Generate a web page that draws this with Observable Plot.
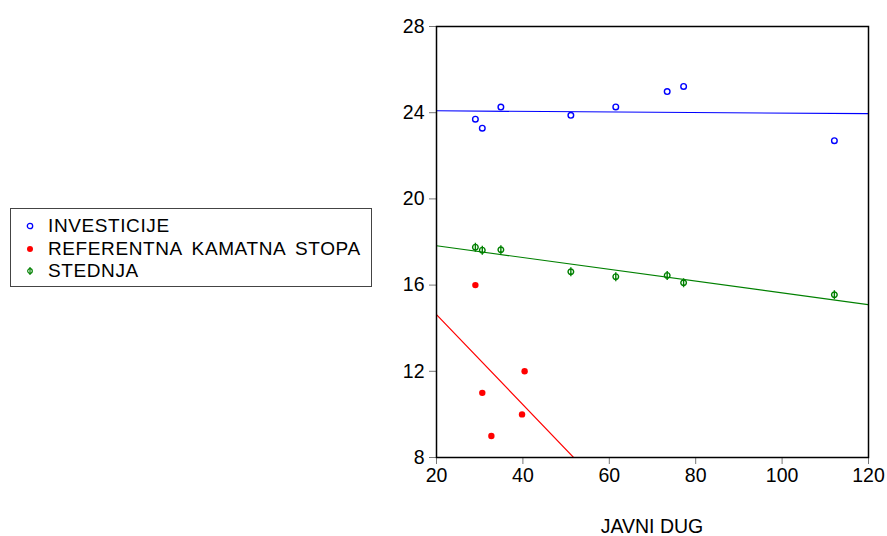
<!DOCTYPE html>
<html><head><meta charset="utf-8">
<script src="https://cdn.jsdelivr.net/npm/d3@7"></script>
<script src="https://cdn.jsdelivr.net/npm/@observablehq/plot@0.6"></script>
<style>
body{margin:0;background:#fff;font-family:"Liberation Sans",Arial,sans-serif;}
#wrap{position:relative;width:887px;height:536px;overflow:hidden;}
#legend{position:absolute;left:10px;top:208px;width:362px;height:79px;border:1px solid #444;box-sizing:border-box;}
.item{position:absolute;left:0;height:22px;line-height:22px;font-size:19px;letter-spacing:0.6px;word-spacing:4px;color:#000;white-space:nowrap;}
.item svg{position:absolute;left:12px;top:4px;}
.item span{position:absolute;left:37px;}
#xlabel{position:absolute;top:515px;left:0;width:1304px;text-align:center;font-size:19.5px;line-height:22px;color:#000;}
</style></head>
<body><div id="wrap"><div id="chart"></div><div id="legend"></div><div id="xlabel"></div></div>
<script>
// ---- data ----
const javniDug = [29.0, 30.6, 34.9, 51.1, 61.5, 73.4, 77.2, 112.1];
const investicije = [23.70, 23.28, 24.26, 23.88, 24.27, 24.98, 25.22, 22.70];
const stednja = [17.76, 17.62, 17.64, 16.62, 16.39, 16.45, 16.11, 15.55];
const javniDugRef = [29.0, 30.6, 32.7, 39.8, 40.4];
const referentna = [16, 11, 9, 10, 12];
const seriesNames = ["INVESTICIJE", "REFERENTNA KAMATNA STOPA", "STEDNJA"];
const seriesColors = ["#0000ff", "#ff0000", "#008000"];
const xTicks = [20, 40, 60, 80, 100, 120];
const yTicks = [8, 12, 16, 20, 24, 28];
const xDomain = [20, 120];
const yDomain = [8, 28];
const xTitle = "JAVNI DUG";

// ---- helpers ----
function fit(xs, ys) {
  const mx = d3.mean(xs), my = d3.mean(ys);
  let sxy = 0, sxx = 0;
  xs.forEach((x, i) => { sxy += (x - mx) * (ys[i] - my); sxx += (x - mx) ** 2; });
  const b = sxy / sxx, a = my - b * mx;
  return xDomain.map(x => ({x, y: a + b * x}));
}
const pts = (xs, ys) => xs.map((x, i) => ({x, y: ys[i]}));
const phi = {
  draw(ctx, size) {
    const r = Math.sqrt(size / Math.PI);
    ctx.moveTo(r, 0); ctx.arc(0, 0, r, 0, 2 * Math.PI);
    ctx.moveTo(0, -r * 1.6); ctx.lineTo(0, r * 1.6);
  }
};

const invPts = pts(javniDug, investicije);
const refPts = pts(javniDugRef, referentna);
const stePts = pts(javniDug, stednja);

const chart = Plot.plot({
  width: 887, height: 536,
  marginLeft: 436, marginRight: 19, marginTop: 26, marginBottom: 79,
  style: {fontFamily: '"Liberation Sans", Arial, sans-serif', fontSize: "19.5px", color: "#000", background: "#fff"},
  x: {domain: xDomain},
  y: {domain: yDomain},
  marks: [
    Plot.line(fit(javniDug, investicije), {x: "x", y: "y", stroke: seriesColors[0], strokeWidth: 1.2, clip: true}),
    Plot.line(fit(javniDugRef, referentna), {x: "x", y: "y", stroke: seriesColors[1], strokeWidth: 1.2, clip: true}),
    Plot.line(fit(javniDug, stednja), {x: "x", y: "y", stroke: seriesColors[2], strokeWidth: 1.2, clip: true}),
    Plot.dot(invPts, {x: "x", y: "y", r: 2.8, stroke: seriesColors[0], strokeWidth: 1.4, fill: "none"}),
    Plot.dot(refPts, {x: "x", y: "y", r: 3.2, fill: seriesColors[1], stroke: "none", symbol: "circle"}),
    Plot.dot(stePts, {x: "x", y: "y", r: 2.8, stroke: seriesColors[2], strokeWidth: 1.4, fill: "none", symbol: phi}),
    Plot.axisX({ticks: xTicks, tickSize: 7, tickPadding: 4, label: null, stroke: "#777", fontSize: 19.5}),
    Plot.axisY({ticks: yTicks, tickSize: 7, tickPadding: 5, label: null, stroke: "#777", fontSize: 19.5}),
    Plot.frame({stroke: "#000", strokeWidth: 1.5})
  ]
});
document.getElementById("chart").appendChild(chart);

// legend
const legend = document.getElementById("legend");
const rowTops = [6, 28.5, 51];
seriesNames.forEach((name, i) => {
  const div = document.createElement("div");
  div.className = "item";
  div.style.top = rowTops[i] + "px";
  let marker;
  if (i === 0) marker = `<circle cx="7" cy="7" r="2.7" fill="none" stroke="${seriesColors[i]}" stroke-width="1.3"/>`;
  else if (i === 1) marker = `<circle cx="7" cy="7" r="3" fill="${seriesColors[i]}"/>`;
  else marker = `<circle cx="7" cy="7" r="2.3" fill="none" stroke="${seriesColors[i]}" stroke-width="1.2"/><line x1="7" x2="7" y1="3" y2="11" stroke="${seriesColors[i]}" stroke-width="1.2"/>`;
  div.innerHTML = `<svg width="14" height="14">${marker}</svg><span>${name}</span>`;
  legend.appendChild(div);
});
document.getElementById("xlabel").textContent = xTitle;
</script></body></html>
